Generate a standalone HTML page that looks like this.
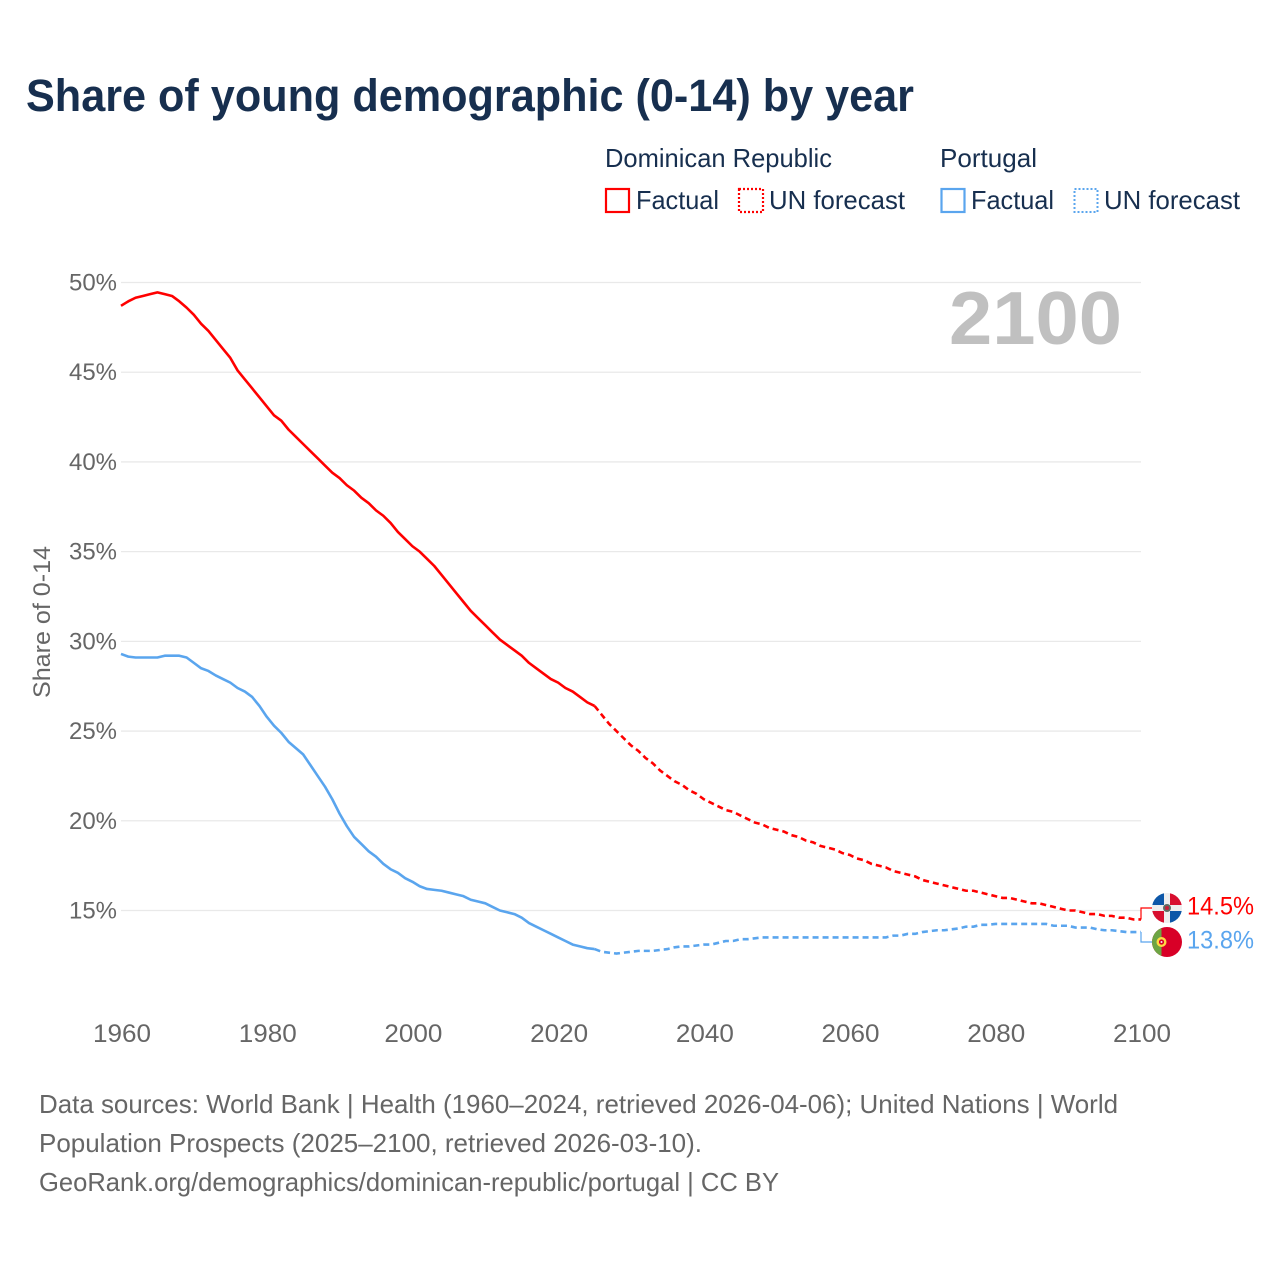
<!DOCTYPE html>
<html lang="en">
<head>
<meta charset="utf-8">
<title>Share of young demographic (0-14) by year</title>
<style>
html,body{margin:0;padding:0;background:#fff;}
svg{display:block;font-family:"Liberation Sans",sans-serif;}
</style>
</head>
<body>
<svg id="chart" xmlns="http://www.w3.org/2000/svg" width="1280" height="1280" viewBox="0 0 1280 1280">
  <rect width="1280" height="1280" fill="#ffffff"/>
  <text x="26" y="111" font-size="45" font-weight="700" fill="#172f4f" textLength="888" lengthAdjust="spacingAndGlyphs">Share of young demographic (0-14) by year</text>

  <g font-size="26" fill="#172f4f">
    <text x="605" y="167" textLength="227" lengthAdjust="spacingAndGlyphs">Dominican Republic</text>
    <text x="940" y="167" textLength="97" lengthAdjust="spacingAndGlyphs">Portugal</text>
    <rect x="606" y="189" width="23" height="23" fill="none" stroke="#ff0000" stroke-width="2.2"/>
    <text x="636" y="209" textLength="83" lengthAdjust="spacingAndGlyphs">Factual</text>
    <rect x="739" y="189" width="24" height="23" fill="none" stroke="#ff0000" stroke-width="2.2" stroke-dasharray="2 2"/>
    <text x="769" y="209" textLength="136" lengthAdjust="spacingAndGlyphs">UN forecast</text>
    <rect x="941.5" y="189" width="23" height="23" fill="none" stroke="#5aa5ee" stroke-width="2.2"/>
    <text x="971" y="209" textLength="83" lengthAdjust="spacingAndGlyphs">Factual</text>
    <rect x="1074.5" y="189" width="23" height="23" fill="none" stroke="#5aa5ee" stroke-width="2" stroke-dasharray="2 2"/>
    <text x="1104" y="209" textLength="136" lengthAdjust="spacingAndGlyphs">UN forecast</text>
  </g>

  <g id="grid"></g>
  <text x="949" y="344" font-size="75" font-weight="700" fill="#c0c0c0" textLength="173" lengthAdjust="spacingAndGlyphs">2100</text>
  <g id="yticks"></g>
  <g id="xticks"></g>
  <text transform="translate(50,622) rotate(-90)" text-anchor="middle" font-size="24" fill="#666666" textLength="152" lengthAdjust="spacingAndGlyphs">Share of 0-14</text>
  <g id="series"></g>

  <defs>
    <clipPath id="clip-dr"><circle cx="1167" cy="908" r="15"/></clipPath>
    <clipPath id="clip-pt"><circle cx="1167" cy="942" r="15"/></clipPath>
  </defs>
  <g clip-path="url(#clip-dr)">
    <rect x="1152" y="893" width="30" height="30" fill="#eeeeee"/>
    <rect x="1152" y="893" width="12" height="12" fill="#0d57a8"/>
    <rect x="1170" y="893" width="12" height="12" fill="#d80f2f"/>
    <rect x="1152" y="911" width="12" height="12" fill="#d80f2f"/>
    <rect x="1170" y="911" width="12" height="12" fill="#0d57a8"/>
    <circle cx="1167" cy="908" r="4" fill="#5f6d62"/>
    <circle cx="1167" cy="908" r="2" fill="#c8203a"/>
  </g>
  <g clip-path="url(#clip-pt)">
    <rect x="1152" y="927" width="30" height="30" fill="#d80027"/>
    <rect x="1152" y="927" width="9.5" height="30" fill="#6da544"/>
    <circle cx="1161.5" cy="942" r="5" fill="#ffda44"/>
    <circle cx="1161.5" cy="942" r="2.6" fill="#d80027"/>
    <circle cx="1161.5" cy="942" r="1" fill="#f0f0f0"/>
  </g>
  <g id="endlabels"></g>

  <g font-size="26" fill="#666666">
    <text x="39" y="1113" textLength="1079" lengthAdjust="spacingAndGlyphs">Data sources: World Bank | Health (1960–2024, retrieved 2026-04-06); United Nations | World</text>
    <text x="39" y="1152" textLength="663" lengthAdjust="spacingAndGlyphs">Population Prospects (2025–2100, retrieved 2026-03-10).</text>
    <text x="39" y="1191" textLength="740" lengthAdjust="spacingAndGlyphs">GeoRank.org/demographics/dominican-republic/portugal | CC BY</text>
  </g>
</svg>

<script>
const firstYear = 1960;
const forecastStartYear = 2025;
const xTickLabels = [1960, 1980, 2000, 2020, 2040, 2060, 2080, 2100];
const yTickLabels = [15, 20, 25, 30, 35, 40, 45, 50];
const dominicanValues = [
  48.7,48.95,49.15,49.25,49.35,49.45,49.35,49.25,48.95,48.6,
  48.2,47.7,47.3,46.8,46.3,45.8,45.1,44.6,44.1,43.6,
  43.1,42.6,42.3,41.8,41.4,41.0,40.6,40.2,39.8,39.4,
  39.1,38.7,38.4,38.0,37.7,37.3,37.0,36.6,36.1,35.7,
  35.3,35.0,34.6,34.2,33.7,33.2,32.7,32.2,31.7,31.3,
  30.9,30.5,30.1,29.8,29.5,29.2,28.8,28.5,28.2,27.9,
  27.7,27.4,27.2,26.9,26.6,26.4,25.9,25.4,25.0,24.6,
  24.2,23.9,23.5,23.2,22.8,22.5,22.2,22.0,21.7,21.5,
  21.2,21.0,20.8,20.6,20.5,20.3,20.1,19.9,19.8,19.6,
  19.5,19.4,19.2,19.1,18.9,18.8,18.6,18.5,18.4,18.2,
  18.1,17.9,17.8,17.6,17.5,17.4,17.2,17.1,17.0,16.9,
  16.7,16.6,16.5,16.4,16.3,16.2,16.1,16.1,16.0,15.9,
  15.8,15.7,15.7,15.6,15.5,15.4,15.4,15.3,15.2,15.1,
  15.0,15.0,14.9,14.8,14.8,14.7,14.7,14.6,14.6,14.5,14.5
];
const portugalValues = [
  29.3,29.15,29.1,29.1,29.1,29.1,29.2,29.2,29.2,29.1,
  28.8,28.5,28.35,28.1,27.9,27.7,27.4,27.2,26.9,26.4,
  25.8,25.3,24.9,24.4,24.05,23.7,23.1,22.5,21.9,21.2,
  20.4,19.7,19.1,18.7,18.3,18.0,17.6,17.3,17.1,16.8,
  16.6,16.35,16.2,16.15,16.1,16.0,15.9,15.8,15.6,15.5,
  15.4,15.2,15.0,14.9,14.8,14.6,14.3,14.1,13.9,13.7,
  13.5,13.3,13.1,13.0,12.9,12.85,12.7,12.65,12.6,12.65,
  12.7,12.75,12.75,12.75,12.8,12.85,12.95,13.0,13.0,13.05,
  13.1,13.1,13.2,13.3,13.3,13.4,13.4,13.45,13.5,13.5,
  13.5,13.5,13.5,13.5,13.5,13.5,13.5,13.5,13.5,13.5,
  13.5,13.5,13.5,13.5,13.5,13.5,13.6,13.6,13.7,13.7,
  13.8,13.85,13.9,13.9,13.95,14.0,14.1,14.1,14.2,14.2,
  14.25,14.25,14.25,14.25,14.25,14.25,14.25,14.25,14.15,14.15,
  14.15,14.05,14.05,14.05,13.95,13.9,13.9,13.85,13.8,13.8,13.8
];

const SVG_NS = 'http://www.w3.org/2000/svg';
const RED = '#ff0000';
const BLUE = '#5aa5ee';
const xScale = year => 121 + (year - 1960) * (1020 / 140);
const yScale = value => 282.5 + (50 - value) * (628 / 35);

function make(tag, attrs, parent) {
  const el = document.createElementNS(SVG_NS, tag);
  Object.keys(attrs).forEach(k => el.setAttribute(k, attrs[k]));
  parent.appendChild(el);
  return el;
}

const gridGroup = document.getElementById('grid');
const yTickGroup = document.getElementById('yticks');
const xTickGroup = document.getElementById('xticks');
const seriesGroup = document.getElementById('series');
const endGroup = document.getElementById('endlabels');

yTickLabels.forEach(v => {
  const line = make('line', {x1: xScale(1960), x2: xScale(2100), y1: yScale(v), y2: yScale(v), stroke: '#e9e9e9', 'stroke-width': 1.3}, gridGroup);
  
  
  const label = make('text', {x: 117, y: yScale(v) + 8, 'text-anchor': 'end', 'font-size': 24, fill: '#666666', textLength: 48, lengthAdjust: 'spacingAndGlyphs'}, yTickGroup);
  label.textContent = v + '%';
  
  
});

xTickLabels.forEach(y => {
  const label = make('text', {x: xScale(y) + 1, y: 1042, 'text-anchor': 'middle', 'font-size': 25, fill: '#666666', textLength: 58, lengthAdjust: 'spacingAndGlyphs'}, xTickGroup);
  label.textContent = String(y);
  
  
});

function pathFor(values, fromYear, toYear) {
  const pts = [];
  values.forEach((v, i) => {
    const yr = firstYear + i;
    if (yr >= fromYear && yr <= toYear) pts.push(xScale(yr).toFixed(2) + ',' + yScale(v).toFixed(2));
  });
  return 'M' + pts.join('L');
}

function drawSeries(values, color, key) {
  const lastYear = firstYear + values.length - 1;
  const solid = make('path', {d: pathFor(values, firstYear, forecastStartYear), fill: 'none', stroke: color, 'stroke-width': 2.6, 'stroke-linejoin': 'round'}, seriesGroup);
  
  
  const dashed = make('path', {d: pathFor(values, forecastStartYear, lastYear), fill: 'none', stroke: color, 'stroke-width': 2.6, 'stroke-dasharray': '6 4'}, seriesGroup);
  
  
}

drawSeries(dominicanValues, RED, 'dominican-republic');
drawSeries(portugalValues, BLUE, 'portugal');

function drawEnd(values, color, key, flagY, textY) {
  const last = values[values.length - 1];
  const x0 = xScale(2100);
  const y0 = yScale(last);
  const connector = make('path', {d: 'M' + x0 + ',' + y0 + 'V' + flagY + 'H1152', fill: 'none', stroke: color, 'stroke-width': 1.2}, endGroup);
  
  
  const label = make('text', {x: 1187, y: textY, 'font-size': 25, fill: color, textLength: 67, lengthAdjust: 'spacingAndGlyphs'}, endGroup);
  label.textContent = last.toFixed(1) + '%';
  
  
}

drawEnd(dominicanValues, RED, 'dominican-republic', 908, 914.5);
drawEnd(portugalValues, BLUE, 'portugal', 942, 948.5);
</script>
</body>
</html>
